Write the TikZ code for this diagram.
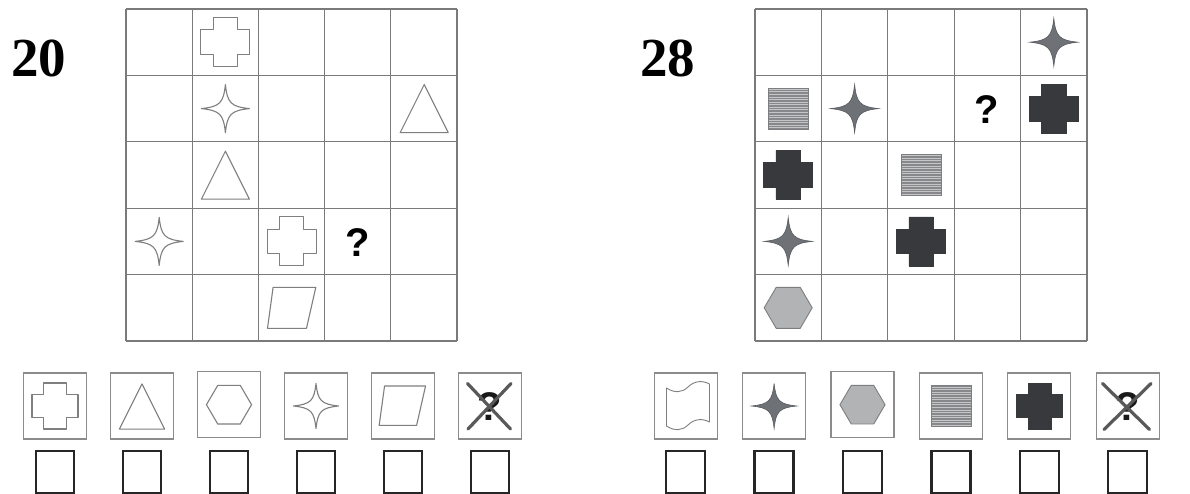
\documentclass[tikz,border=0pt]{standalone}
\usepackage{fontspec}
\setmainfont{Liberation Serif}
\newfontfamily\qfont{Liberation Sans}
\definecolor{gridgray}{HTML}{7A7A7A}
\definecolor{outgray}{HTML}{7F7F7F}
\definecolor{stargray}{HTML}{6E7175}
\definecolor{stargrayd}{HTML}{585B5F}
\definecolor{darkc}{HTML}{37393C}
\definecolor{hexfill}{HTML}{B2B3B5}
\definecolor{hexdraw}{HTML}{7D7E80}
\definecolor{hatchbg}{HTML}{86888B}
\definecolor{hatchln}{HTML}{C6C6C6}
\definecolor{boxgray}{HTML}{8C8C8C}
\definecolor{xgray}{HTML}{595959}
\tikzset{
  gridline/.style={draw=gridgray, line width=1.2pt},
  outline/.style={draw=outgray, line width=1.1pt, line join=round},
  graystar/.style={fill=stargray, draw=stargrayd, line width=0.6pt},
  darkcross/.style={fill=darkc, draw=darkc, line width=0.5pt},
  hexa/.style={fill=hexfill, draw=hexdraw, line width=0.9pt},
  ansbox/.style={draw=boxgray, line width=1.2pt},
  checkbox/.style={draw=black!85, line width=2.3pt},
  xline/.style={draw=xgray, line width=3.2pt, line cap=round},
  numlabel/.style={font=\bfseries\fontsize{55}{60}\selectfont, inner sep=0pt},
  qlabel/.style={font=\qfont\bfseries\fontsize{40}{44}\selectfont, inner sep=0pt},
  qlabelsm/.style={font=\qfont\bfseries\fontsize{40}{44}\selectfont, inner sep=0pt, text=black!90},
  pics/crossp/.style={code={
    \path[pic actions] (-12.25,-24.5) -- (12.25,-24.5) -- (12.25,-12.25) -- (24.5,-12.25)
      -- (24.5,12.25) -- (12.25,12.25) -- (12.25,24.5) -- (-12.25,24.5) -- (-12.25,12.25)
      -- (-24.5,12.25) -- (-24.5,-12.25) -- (-12.25,-12.25) -- cycle;}},
  pics/starp/.style={code={
    \path[pic actions] (0,-24) .. controls (2,-5.5) and (5.5,-2) .. (24,0)
      .. controls (5.5,2) and (2,5.5) .. (0,24)
      .. controls (-2,5.5) and (-5.5,2) .. (-24,0)
      .. controls (-5.5,-2) and (-2,-5.5) .. cycle;}},
  pics/trip/.style={code={
    \path[pic actions] (0,-24) -- (24,24) -- (-24,24) -- cycle;}},
  pics/hexp/.style={code={
    \path[pic actions] (-24,0) -- (-12,-20.5) -- (12,-20.5) -- (24,0) -- (12,20.5) -- (-12,20.5) -- cycle;}},
  pics/parap/.style={code={
    \path[pic actions] (-18.7,-20.5) -- (24,-20.5) -- (14.7,20.5) -- (-24.3,20.5) -- cycle;}},
  pics/flagp/.style={code={
    \path[pic actions] (-21.5,-18) .. controls (-14,-13) and (-6,-13) .. (0,-19)
      .. controls (6,-25) and (14,-26) .. (21.5,-22) -- (21.5,16)
      .. controls (14,12) and (6,13) .. (0,19)
      .. controls (-6,25) and (-14,25) .. (-21.5,20) -- cycle;}},
  pics/hatchp/.style={code={
    \fill[hatchbg] (-20,-20.5) rectangle (20,20.5);
    \foreach \k in {0,...,15} {\draw[hatchln, line width=0.8pt] (-20,{-19.3+\k*2.57}) -- (20,{-19.3+\k*2.57});}
    \draw[hexdraw, line width=0.8pt] (-20,-20.5) rectangle (20,20.5);}},
}
\begin{document}
\begin{tikzpicture}[x=1pt,y=-1pt]
\useasboundingbox (0,0) rectangle (1190,494);
\fill[white] (0,0) rectangle (1190,494);

% ---------- labels ----------
\node[numlabel] (n20) at (38.5,58) {20};
\node[numlabel] (n28) at (667.5,58) {28};

% ---------- left grid ----------
\foreach \i in {0,...,5} {
  \draw[gridline] ({126+66.2*\i},9) -- ({126+66.2*\i},341);
  \draw[gridline] (126,{9+66.4*\i}) -- (457,{9+66.4*\i});
}
\pic[outline] at (225.4,42.2) {crossp};
\pic[outline] at (225.4,108.6) {starp};
\pic[outline] at (424.2,108.6) {trip};
\pic[outline] at (225.4,175.2) {trip};
\pic[outline] at (159.2,241.4) {starp};
\pic[outline] at (291.6,241.4) {crossp};
\node[qlabel] (q1) at (358,242.5) {?};
\pic[outline] at (291.8,307.8) {parap};

% ---------- right grid ----------
\foreach \i in {0,...,5} {
  \draw[gridline] ({755+66.4*\i},9) -- ({755+66.4*\i},341);
  \draw[gridline] (755,{9+66.4*\i}) -- (1087,{9+66.4*\i});
}
\pic[graystar] at (1053.8,42.2) {starp};
\pic at (788.2,108.6) {hatchp};
\pic[graystar] at (854.6,108.6) {starp};
\node[qlabel] (q2) at (987,110) {?};
\pic[darkcross] at (1053.8,108.6) {crossp};
\pic[darkcross] at (788.2,175.0) {crossp};
\pic at (921.0,175.0) {hatchp};
\pic[graystar] at (788.2,241.4) {starp};
\pic[darkcross] at (921.0,241.4) {crossp};
\pic[hexa] at (788.2,307.8) {hexp};

% ---------- left answers ----------
\foreach \i in {0,...,5} {
  \draw[checkbox] ({55+87*\i-19},450.7) rectangle ({55+87*\i+19},492.7);
}
\draw[ansbox] (23.5,373) rectangle (86.5,439);
\draw[ansbox] (110.5,373) rectangle (173.5,439);
\draw[ansbox] (197.5,371.7) rectangle (260.5,437.7);
\draw[ansbox] (284.5,373) rectangle (347.5,439);
\draw[ansbox] (371.5,373) rectangle (434.5,439);
\draw[ansbox] (458.5,373) rectangle (521.5,439);
\pic[outline, scale=0.94] at (55,406) {crossp};
\pic[outline, scale=0.94] at (142,406.5) {trip};
\pic[outline, scale=0.94] at (229,404.7) {hexp};
\pic[outline, scale=0.94] at (316,406) {starp};
\pic[outline, scale=0.96] at (402.5,405.7) {parap};
\node[qlabelsm] (q3) at (489.5,406.5) {?};
\draw[xline] (467.5,383.5) -- (510.5,429);
\draw[xline] (511,383.5) -- (468,429);

% ---------- right answers ----------
\foreach \i in {0,...,5} {
  \draw[checkbox] ({685.7+88.4*\i-19.5},450.7) rectangle ({685.7+88.4*\i+19.5},492.7);
}
\draw[ansbox] (654.2,373) rectangle (717.2,439);
\draw[ansbox] (742.6,373) rectangle (805.6,439);
\draw[ansbox] (831.0,371.7) rectangle (894.0,437.7);
\draw[ansbox] (919.4,373) rectangle (982.4,439);
\draw[ansbox] (1007.8,373) rectangle (1070.8,439);
\draw[ansbox] (1096.2,373) rectangle (1159.2,439);
\pic[outline, line width=0.9pt] at (688,406) {flagp};
\pic[graystar, scale=0.94] at (774.1,406) {starp};
\pic[hexa, scale=0.94] at (862.5,404.7) {hexp};
\pic at (951.2,406.2) {hatchp};
\pic[darkcross, scale=0.94] at (1039.5,406.2) {crossp};
\node[qlabelsm] (q4) at (1127.7,406.5) {?};
\draw[xline] (1102.5,383.5) -- (1149.5,429.5);
\draw[xline] (1151,383.5) -- (1104,429.5);
\end{tikzpicture}
\end{document}
